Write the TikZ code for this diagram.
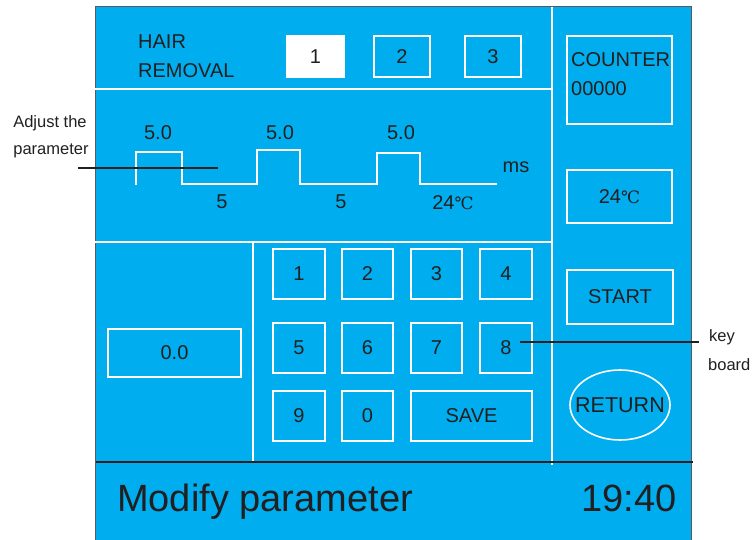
\documentclass[tikz,border=0pt]{standalone}
\usepackage{fontspec}
\setmainfont{Liberation Sans}
\newfontfamily\degfont{DejaVu Serif}
\usetikzlibrary{shapes.geometric}
\definecolor{panel}{RGB}{0,174,239}
\definecolor{ink}{RGB}{34,31,32}
\definecolor{edge}{RGB}{90,90,90}
\newcommand{\degC}{{\degfont\fontsize{17}{19}\selectfont ℃}}
\begin{document}
\begin{tikzpicture}[x=1pt,y=-1pt,
  txt/.style={text=ink,font=\fontsize{20}{22}\selectfont,inner sep=0pt},
  note/.style={text=ink,font=\fontsize{16.5}{18}\selectfont,inner sep=0pt},
  big/.style={text=ink,font=\fontsize{38}{40}\selectfont,inner sep=0pt},
  btn/.style={draw=white,line width=1.6pt,text=ink,font=\fontsize{20}{22}\selectfont,inner sep=0pt},
  wline/.style={draw=white,line width=1.6pt},
  bline/.style={draw=ink,line width=2pt}]
\useasboundingbox (0,0) rectangle (753,540);
% panel
\fill[panel] (95,7) rectangle (691,540);
\draw[edge,line width=1pt] (95,540) -- (95,7) -- (691,7) -- (691,540);
% dividers
\draw[wline] (95,89) -- (552,89);
\draw[wline] (95,242) -- (552,242);
\draw[wline] (552,7) -- (552,465);
\draw[wline] (253,242) -- (253,461);
\draw[bline] (96,461.5) -- (693,461.5);
% top row
\node[txt,anchor=west] (hair) at (138,42) {HAIR};
\node[txt,anchor=west] (removal) at (138,71) {REMOVAL};
\node[btn,fill=white,minimum width=57pt,minimum height=41pt] (p1) at (315.5,56.5) {1};
\node[btn,minimum width=56pt,minimum height=41pt] (p2) at (402,56.5) {2};
\node[btn,minimum width=56pt,minimum height=41pt] (p3) at (493,56.5) {3};
% right column
\node[btn,minimum width=105pt,minimum height=88pt] (counter) at (619.5,80) {};
\node[txt,anchor=west] (countlbl) at (571,60) {COUNTER};
\node[txt,anchor=west] (countval) at (571,89) {00000};
\node[btn,minimum width=105pt,minimum height=53pt] (temp) at (619.5,196.5) {24\degC};
\node[btn,minimum width=106pt,minimum height=54pt] (start) at (620,297) {START};
\node[btn,ellipse,minimum width=100pt,minimum height=70pt,
  label={[txt,font=\fontsize{21.5}{23}\selectfont]center:RETURN}] (ret) at (620,405) {};
% waveform
\draw[wline] (136,185) -- (136,152) -- (182,152) -- (182,184) -- (257,184) -- (257,150)
  -- (300,150) -- (300,184) -- (377,184) -- (377,153) -- (420,153) -- (420,184) -- (497,184);
\node[txt] (w1) at (158,133) {5.0};
\node[txt] (w2) at (280,133) {5.0};
\node[txt] (w3) at (401,133) {5.0};
\node[txt] (g1) at (222,202) {5};
\node[txt] (g2) at (341,202) {5};
\node[txt] (wt) at (453,203) {24\degC};
\node[txt] (ms) at (516,167) {ms};
% value box
\node[btn,minimum width=133pt,minimum height=48pt] (val) at (174.5,353) {0.0};
% keypad
\node[btn,minimum width=52pt,minimum height=50pt] (k1) at (299,274) {1};
\node[btn,minimum width=51pt,minimum height=50pt] (k2) at (367.5,274) {2};
\node[btn,minimum width=51pt,minimum height=50pt] (k3) at (436.5,274) {3};
\node[btn,minimum width=52pt,minimum height=50pt] (k4) at (506,274) {4};
\node[btn,minimum width=52pt,minimum height=50pt] (k5) at (299,348) {5};
\node[btn,minimum width=51pt,minimum height=50pt] (k6) at (367.5,348) {6};
\node[btn,minimum width=51pt,minimum height=50pt] (k7) at (436.5,348) {7};
\node[btn,minimum width=52pt,minimum height=50pt] (k8) at (506,348) {8};
\node[btn,minimum width=52pt,minimum height=50pt] (k9) at (299,416) {9};
\node[btn,minimum width=51pt,minimum height=50pt] (k0) at (367.5,416) {0};
\node[btn,minimum width=121pt,minimum height=50pt] (save) at (471.5,416) {SAVE};
% status bar
\node[big,anchor=base west] (mode) at (117,511) {Modify parameter};
\node[big,anchor=base east] (clock) at (677,511) {19:40};
% annotations
\node[note] (adj1) at (50,123) {Adjust the};
\node[note] (adj2) at (51,151) {parameter};
\coordinate (adjL) at (78,168);
\coordinate (adjR) at (218,168);
\draw[ink,line width=1.2pt] (adjL) -- (adjR);
\node[note,anchor=west] (kb1) at (709,337) {key};
\node[note,anchor=west] (kb2) at (708,365) {board};
\coordinate (kbL) at (520,342);
\coordinate (kbR) at (699,342);
\draw[ink,line width=1.2pt] (kbL) -- (kbR);
\end{tikzpicture}
\end{document}
